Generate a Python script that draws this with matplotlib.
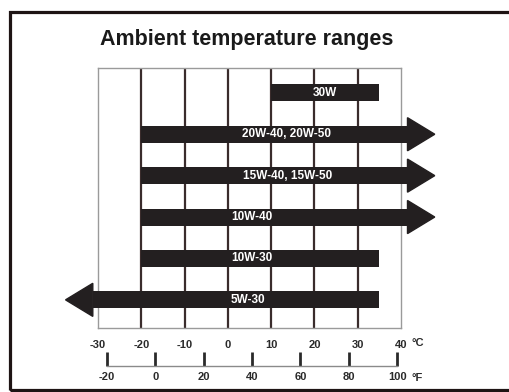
import matplotlib
matplotlib.use("Agg")
import matplotlib.pyplot as plt
from matplotlib.patches import Rectangle

# ---- data ----
grades = ["30W", "20W-40, 20W-50", "15W-40, 15W-50", "10W-40", "10W-30", "5W-30"]
low_c = [10, -20, -20, -20, -20, -31.2]
high_c = [35, 41.5, 41.5, 41.5, 35, 35]
arrow_right = [False, True, True, True, False, False]
arrow_left = [False, False, False, False, False, True]
label_c = [22.5, 13.6, 13.8, 5.6, 5.6, 4.6]
c_ticks = [-30, -20, -10, 0, 10, 20, 30, 40]
f_ticks = [-20, 0, 20, 40, 60, 80, 100]
title = "Ambient temperature ranges"

W, H = 509, 392
fig = plt.figure(figsize=(W / 100, H / 100), dpi=100)

# outer frame
fig.patches.append(Rectangle((9.5 / W, 1 - 390 / H), 1.2, (390 - 12) / H,
                             transform=fig.transFigure, fill=False,
                             edgecolor="#1e1414", linewidth=2.3))

ax = fig.add_axes([98 / W, 1 - 328 / H, (401 - 98) / W, (328 - 68) / H])
ax.set_xlim(c_ticks[0], c_ticks[-1])
ax.set_ylim(5.68, -0.6)
for s in ax.spines.values():
    s.set_color("#9a9a9a")
    s.set_linewidth(1.0)
ax.set_yticks([])
ax.set_xticks(c_ticks)
ax.set_xticklabels([str(t) for t in c_ticks], fontsize=8, fontweight="bold",
                   color="#2a2a2a", family="Liberation Sans")
ax.tick_params(axis="x", length=0, pad=9)
for t in c_ticks[1:-1]:
    ax.axvline(t, color="#3a2c2c", linewidth=1.6, zorder=1)

bar_h = 0.41
head_half = 0.40
head_len = 6.3
dark = "#231f20"
for i, g in enumerate(grades):
    lo, hi = low_c[i], high_c[i]
    ax.barh(i, hi - lo, left=lo, height=bar_h, color=dark, clip_on=False, zorder=3)
    if arrow_right[i]:
        ax.fill([hi, hi + head_len, hi], [i - head_half, i, i + head_half],
                color=dark, clip_on=False, zorder=3)
    if arrow_left[i]:
        ax.fill([lo, lo - head_len, lo], [i - head_half, i, i + head_half],
                color=dark, clip_on=False, zorder=3)
    ax.text(label_c[i], i, g, color="white", ha="center", va="center",
            fontsize=8.5, fontweight="bold", zorder=4,
            family=["Liberation Sans Narrow", "Liberation Sans"])

fig.text(412 / W, 1 - 343 / H, "°C", fontsize=8, fontweight="bold",
         color="#2a2a2a", va="center", ha="left", family="Liberation Sans")

# Fahrenheit scale
axf = fig.add_axes([98 / W, 1 - 366 / H, (401 - 98) / W, 0.001])
axf.set_xlim(-23.7, 101.6)
axf.set_yticks([])
for k in ["top", "left", "right"]:
    axf.spines[k].set_visible(False)
axf.spines["bottom"].set_bounds(f_ticks[0], f_ticks[-1])
axf.spines["bottom"].set_color("#8a8a8a")
axf.spines["bottom"].set_linewidth(1.0)
axf.patch.set_visible(False)
axf.set_xticks(f_ticks)
axf.set_xticklabels([str(t) for t in f_ticks], fontsize=8, fontweight="bold",
                    color="#2a2a2a", family="Liberation Sans")
axf.tick_params(axis="x", direction="in", length=10, width=2, color="#2a2a2a", pad=4)
fig.text(411 / W, 1 - 378 / H, "°F", fontsize=8, fontweight="bold",
         color="#2a2a2a", va="center", ha="left", family="Liberation Sans")

fig.text(247 / W, 1 - 39 / H, title, fontsize=15.5, fontweight="bold",
         color="#1a1a1a", ha="center", va="center", family="Liberation Sans")

fig.savefig("out.png", dpi=100)
